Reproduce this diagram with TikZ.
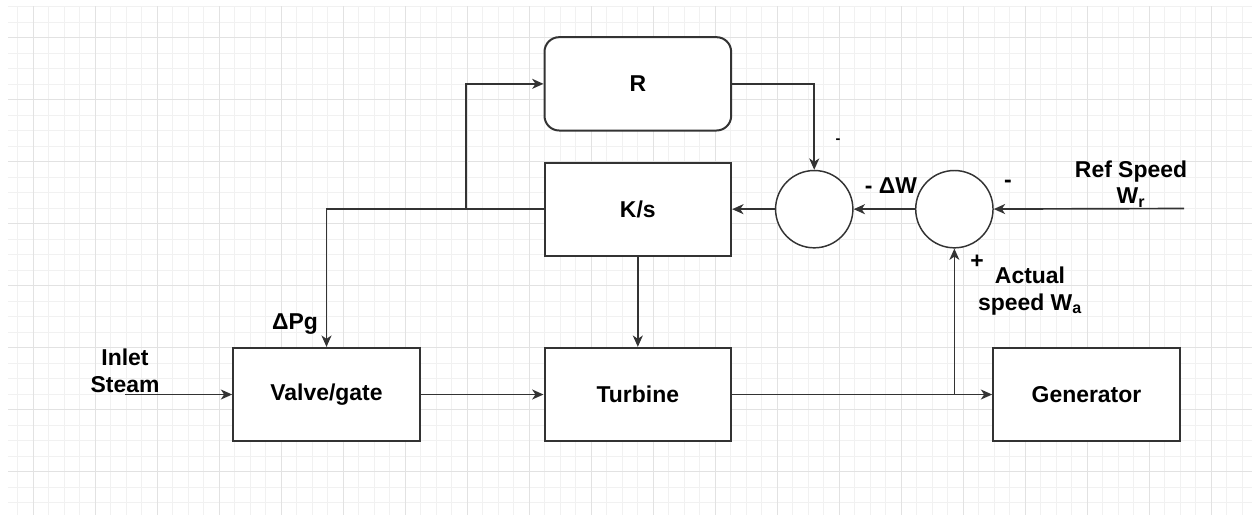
\documentclass[tikz,border=0pt]{standalone}
\usepackage{fontspec}
\setmainfont{Liberation Sans}
\usetikzlibrary{arrows.meta,positioning}
\definecolor{gridmaj}{HTML}{E2E2E2}
\definecolor{gridmin}{HTML}{F1F1F1}
\definecolor{edge}{HTML}{333333}

\begin{document}
\begin{tikzpicture}[
    x=0.75pt, y=-0.75pt,
    font=\fontsize{17.2}{20}\selectfont\bfseries,
    block/.style={draw=edge, line width=1.5pt, fill=white, minimum width=140pt, minimum height=70pt, align=center},
    rblock/.style={block, rounded corners=11pt},
    sumnode/.style={circle, draw=edge, line width=1.1pt, fill=white, minimum size=58pt, inner sep=0pt},
    lbl/.style={align=center, inner sep=0pt},
    arr/.style={-{Stealth[length=8.5pt,width=7.5pt,inset=2.5pt]}, line width=1.25pt, draw=edge}
  ]
  \useasboundingbox (0,0) rectangle (1252,515);
  % grid
  \foreach \i in {-1,...,78} \draw[gridmin, line width=0.75pt] ({33+15.5*\i},6) -- ({33+15.5*\i},515);
  \foreach \j in {-2,...,30} \draw[gridmin, line width=0.75pt] (8,{37.7+15.5*\j}) -- (1252,{37.7+15.5*\j});
  \foreach \i in {0,...,19} \draw[gridmaj, line width=0.75pt] ({33+62*\i},6) -- ({33+62*\i},515);
  \foreach \j in {0,...,7} \draw[gridmaj, line width=0.75pt] (8,{37.7+62*\j}) -- (1252,{37.7+62*\j});

  % blocks
  \node[block] (valve) at (326.5,394.5) {Valve/gate};
  \node[block, right=92pt of valve] (turb) {Turbine};
  \node[block, right=195pt of turb] (gen) {Generator};
  \node[block, above=67.5pt of turb] (ks) {K/s};
  \node[rblock, above=22.5pt of ks] (r) {R};
  \node[sumnode, right=32pt of ks] (sum1) {};
  \node[sumnode, right=46pt of sum1] (sum2) {};

  \coordinate (inlet) at (125,394.5);
  \coordinate (ref) at (1184,208.5);
  \coordinate (tapr) at (466,208.5);
  \coordinate (tapg) at (853,394.5);

  % signal paths
  \draw[arr] (inlet) -- (valve.west);
  \draw[arr] (valve) -- (turb);
  \draw[arr] (turb) -- (gen);
  \draw[arr] (ks) -- (turb);
  \draw[arr] (ref) -- (sum2);
  \draw[arr] (sum2) -- (sum1);
  \draw[arr] (sum1) -- (ks);
  \draw[arr] (ks.west) -| (valve.north);
  \draw[arr] (tapr) |- (r.west);
  \draw[arr] (r.east) -| (sum1.north);
  \draw[arr] (tapg) -| (sum2.south);

  % labels
  \node[lbl] (mr) at (838,141) {\fontsize{11}{12}\selectfont -};
  \node[lbl] (dw) at (891,186) {- ΔW};
  \node[lbl] (m2) at (1008,184) {-};
  \node[lbl] (p2) at (977,262) {+};
  \node[lbl] (act) at (1030,291) {Actual\\speed W\textsubscript{a}};
  \node[lbl] (refl) at (1131,184) {Ref Speed\\W\textsubscript{r}};
  \node[lbl] (dp) at (295,324) {ΔPg};
  \node[lbl] (inl) at (125,371) {Inlet\\Steam};
\end{tikzpicture}
\end{document}
